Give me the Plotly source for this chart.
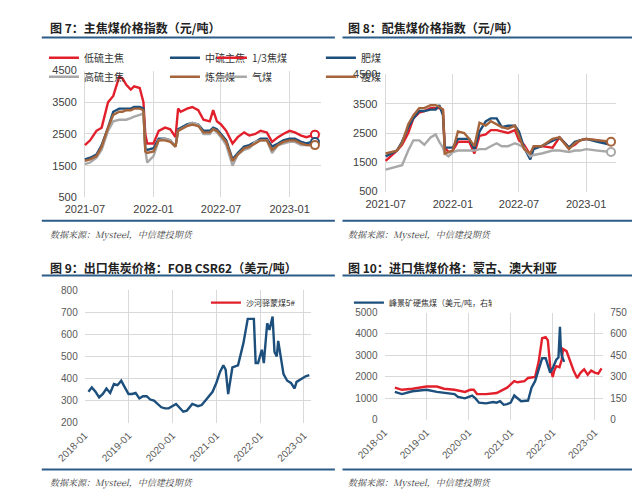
import plotly.graph_objects as go

# ---------- Data ----------
# Fig 7 main coking coal
p1_dates = ["2021-07-01","2021-07-15","2021-08-01","2021-08-15","2021-09-01","2021-09-15","2021-10-01","2021-10-10","2021-10-20","2021-11-01","2021-11-10","2021-11-25","2021-12-05","2021-12-10","2021-12-15","2022-01-01","2022-01-15","2022-02-01","2022-02-15","2022-03-01","2022-03-08","2022-03-15","2022-04-01","2022-04-15","2022-05-01","2022-05-15","2022-06-01","2022-06-10","2022-06-20","2022-07-01","2022-07-15","2022-08-01","2022-08-15","2022-09-01","2022-09-15","2022-10-01","2022-10-15","2022-11-01","2022-11-15","2022-12-01","2022-12-15","2023-01-01","2023-01-15","2023-02-01","2023-02-15","2023-03-01","2023-03-10"]
low_s  = [2150,2300,2600,2700,3500,3700,4300,4250,4050,3900,4000,3950,3500,2500,2200,2200,2600,2700,2650,2400,3300,3200,3300,3350,3250,2950,2900,3250,2900,2800,2600,2200,2400,2550,2450,2500,2600,2550,2250,2400,2500,2600,2550,2450,2400,2450,2480]
mid_s  = [1700,1750,1850,2150,2700,3200,3300,3300,3300,3300,3350,3350,3300,2050,2000,2050,2350,2350,2300,2100,2650,2700,2800,2850,2800,2600,2600,2700,2650,2500,2300,1700,1900,2100,2150,2250,2350,2350,2100,2200,2300,2350,2350,2250,2200,2250,2250]
high_s = [1550,1600,1750,2000,2600,2900,2950,2950,2950,3000,3050,3100,3150,2000,1600,1800,2300,2350,2300,2100,2600,2650,2750,2850,2800,2500,2500,2650,2550,2400,2150,1500,1850,2000,2050,2250,2300,2300,1900,2150,2200,2250,2250,2150,2150,2150,2150]
coking = [1650,1700,1800,2100,2700,3100,3200,3200,3250,3250,3300,3300,3250,1950,1900,1950,2300,2300,2250,2100,2600,2650,2750,2800,2750,2550,2550,2650,2600,2450,2250,1650,1850,2050,2100,2200,2300,2300,2000,2150,2250,2300,2300,2200,2150,2150,2150]

# Fig 8 blending coal
p2_dates = ["2021-07-01","2021-08-01","2021-08-15","2021-09-01","2021-09-15","2021-10-01","2021-10-15","2021-11-01","2021-11-15","2021-11-25","2021-12-05","2021-12-10","2021-12-20","2022-01-01","2022-01-15","2022-02-01","2022-02-15","2022-03-01","2022-03-15","2022-04-01","2022-04-15","2022-05-01","2022-05-15","2022-06-01","2022-06-20","2022-07-01","2022-07-15","2022-08-01","2022-08-10","2022-09-01","2022-10-01","2022-10-20","2022-11-15","2022-12-01","2022-12-15","2023-01-01","2023-02-01","2023-03-10"]
third  = [1550,1900,2100,2500,3000,3200,3250,3350,3350,3350,3300,2000,1850,1900,2200,2200,2200,1800,2400,2450,2600,2600,2550,2500,2600,2250,2100,1750,2000,2050,2000,2350,2000,2100,2250,2300,2250,2150]
fat    = [1700,1900,2200,2700,3000,3250,3250,3300,3300,3450,3100,2000,2000,2000,2300,2300,2300,1950,2550,2900,3000,3000,2700,2750,2750,2550,2000,1600,1950,2050,2250,2350,2000,2200,2250,2300,2200,2100]
gas    = [1250,1350,1400,1900,2250,2250,2100,2350,2450,2200,2000,1800,1700,1850,1900,1900,1900,1900,1950,1950,2050,2150,2050,2050,2150,2100,2000,1700,1750,1800,1900,1900,1850,1900,1900,1950,1900,1850]
lean   = [1800,1900,2150,2800,3100,3350,3350,3450,3450,3400,3300,1800,1850,1900,2550,2500,2300,2050,2850,2750,2900,2800,2700,2650,2750,2400,1950,1800,2050,2050,2300,2350,1950,2150,2250,2300,2250,2200]

# Fig 9 export coke FOB CSR62
p3_dates = ["2018-02-01","2018-03-01","2018-04-01","2018-05-01","2018-06-01","2018-07-01","2018-08-01","2018-09-01","2018-10-01","2018-11-01","2018-12-01","2019-01-01","2019-02-01","2019-03-01","2019-04-01","2019-05-01","2019-06-01","2019-07-01","2019-08-01","2019-09-01","2019-10-01","2019-11-01","2019-12-01","2020-02-01","2020-03-01","2020-04-01","2020-05-01","2020-06-15","2020-08-01","2020-09-01","2020-10-01","2020-11-01","2020-12-01","2021-01-01","2021-02-01","2021-03-01","2021-03-20","2021-04-10","2021-05-15","2021-07-01","2021-08-15","2021-09-20","2021-10-01","2021-11-10","2021-11-25","2021-12-15","2022-01-15","2022-02-01","2022-03-01","2022-03-20","2022-04-15","2022-05-01","2022-05-20","2022-06-01","2022-07-15","2022-08-15","2022-09-15","2022-10-15","2022-11-01","2022-12-15","2023-01-15","2023-02-15"]
fob = [340,360,340,315,330,355,335,375,370,390,360,330,330,335,310,320,320,305,300,285,270,265,265,285,270,250,255,285,275,280,300,320,340,380,430,460,440,330,450,460,560,670,670,670,470,470,530,470,650,620,680,520,500,570,420,390,380,355,385,400,410,415]

# Fig 10 import coking coal
p4_red_dates = ["2018-04-01","2018-06-01","2018-09-01","2019-01-01","2019-04-01","2019-06-01","2019-09-01","2019-12-01","2020-01-15","2020-02-15","2020-03-15","2020-06-01","2020-09-01","2020-12-01","2021-02-01","2021-03-01","2021-05-01","2021-06-01","2021-08-01","2021-09-01","2021-10-01","2021-11-01","2021-11-20","2021-12-10","2022-01-01","2022-01-15","2022-02-01","2022-03-01","2022-03-20","2022-04-01","2022-05-01","2022-06-01","2022-07-01","2022-08-01","2022-09-01","2022-10-01","2022-11-01","2022-12-01","2023-01-01","2023-02-01","2023-03-01"]
shahe = [1500,1400,1450,1550,1550,1450,1400,1300,1400,1400,1200,1200,1250,1500,1800,1750,1800,1950,2000,2700,3800,3850,3700,2500,2000,2300,2500,2450,2800,3300,3200,2700,2300,1950,2200,2350,2100,2300,2200,2150,2400]
p4_blue_dates = ["2018-04-01","2018-06-01","2018-09-01","2019-01-01","2019-04-01","2019-06-01","2019-09-01","2019-10-01","2019-12-01","2020-02-01","2020-03-01","2020-04-01","2020-06-01","2020-08-01","2020-09-01","2020-10-01","2020-11-01","2020-12-01","2021-01-01","2021-02-01","2021-03-01","2021-04-01","2021-06-01","2021-07-01","2021-08-01","2021-09-01","2021-10-01","2021-11-01","2021-12-10","2022-01-01","2022-02-01","2022-02-20","2022-03-05","2022-03-12","2022-03-20","2022-04-10"]
peak_downs = [195,180,200,210,195,190,180,160,150,170,150,120,115,125,120,130,105,110,120,170,150,130,135,225,270,345,430,430,330,360,420,435,650,510,450,405]

RED = "#e2202c"; BLUE = "#1c4f7c"; GRAY = "#a8a8a8"; BROWN = "#a5643a"
HEAD = "#2c5d88"
TICK = dict(family="Arial Black, Arial", size=10, color="#595959")
TICKB = dict(family="Arial Black, Arial", size=11, color="#404040")

fig = go.Figure()

def add(x, y, name, color, xa, ya, legend, width=2.4, show=True):
    fig.add_trace(go.Scatter(x=x, y=y, name=name, mode="lines", line=dict(color=color, width=width),
                             xaxis=xa, yaxis=ya, legend=legend, showlegend=show))

add(p1_dates, low_s, "低硫主焦", RED, "x", "y", "legend")
add(p1_dates, mid_s, "中硫主焦", BLUE, "x", "y", "legend")
add(p1_dates, high_s, "高硫主焦", GRAY, "x", "y", "legend")
add(p1_dates, coking, "炼焦煤", BROWN, "x", "y", "legend")
for s, c in [(low_s, RED), (mid_s, BLUE), (coking, BROWN)]:
    fig.add_trace(go.Scatter(x=[p1_dates[-1]], y=[s[-1]], mode="markers", showlegend=False,
                             marker=dict(size=8, color="white", line=dict(color=c, width=2)), xaxis="x", yaxis="y"))

add(p2_dates, third, "1/3焦煤", RED, "x2", "y2", "legend2")
add(p2_dates, fat, "肥煤", BLUE, "x2", "y2", "legend2")
add(p2_dates, gas, "气煤", GRAY, "x2", "y2", "legend2")
add(p2_dates, lean, "瘦煤", BROWN, "x2", "y2", "legend2")
for s, c in [(gas, GRAY), (lean, BROWN)]:
    fig.add_trace(go.Scatter(x=[p2_dates[-1]], y=[s[-1]], mode="markers", showlegend=False,
                             marker=dict(size=8, color="white", line=dict(color=c, width=2)), xaxis="x2", yaxis="y2"))

add(p3_dates, fob, "FOB", BLUE, "x3", "y3", "legend", show=False)

add(p4_red_dates, shahe, "沙河驿蒙煤5#", RED, "x4", "y4", "legend3")
add(p4_blue_dates, peak_downs, "峰景矿硬焦煤（美元/吨，右轴）", BLUE, "x4", "y5", "legend3")

def px(v): return v/640
def py(v): return 1 - v/491

grid = dict(showgrid=True, gridcolor="#d9d9d9", gridwidth=1, zeroline=False, showline=False)
fig.update_layout(
    width=640, height=491, margin=dict(l=0, r=0, t=0, b=0),
    paper_bgcolor="white", plot_bgcolor="white", font=dict(family="Noto Sans CJK SC"),
    xaxis=dict(domain=[px(49), px(297)], anchor="y", type="date", range=["2021-06-28", "2023-03-25"],
               tickvals=["2021-07-01","2022-01-01","2022-07-01","2023-01-01"], tickformat="%Y-%m",
               ticklabelstandoff=4, tickfont=TICKB, **grid),
    yaxis=dict(domain=[py(188), py(58)], anchor="x", range=[500, 4500], tickvals=[500,1500,2500,3500,4500],
               ticklabelstandoff=6, tickfont=TICKB, **grid),
    xaxis2=dict(domain=[px(364), px(607)], anchor="y2", type="date", range=["2021-06-28", "2023-03-25"],
                tickvals=["2021-07-01","2022-01-01","2022-07-01","2023-01-01"], tickformat="%Y-%m",
                ticklabelstandoff=4, tickfont=TICKB, **grid),
    yaxis2=dict(domain=[py(182), py(62)], anchor="x2", range=[500, 4500], tickvals=[500,1500,2500,3500,4500],
                ticklabelstandoff=6, tickfont=TICKB, **grid),
    xaxis3=dict(domain=[px(50), px(287)], anchor="y3", type="date", range=["2018-01-01", "2023-03-01"],
                tickvals=[f"{y}-01-01" for y in range(2018, 2024)], tickformat="%Y-%m", tickangle=-45,
                ticklabelstandoff=4, tickfont=TICK, **grid),
    yaxis3=dict(domain=[py(419), py(283)], anchor="x3", range=[200, 800], tickvals=[200,300,400,500,600,700,800],
                ticklabelstandoff=6, tickfont=TICK, **grid),
    xaxis4=dict(domain=[px(364), px(593)], anchor="y4", type="date", range=["2018-01-01", "2023-03-15"],
                tickvals=[f"{y}-01-01" for y in range(2018, 2024)], tickformat="%Y-%m", tickangle=-45,
                ticklabelstandoff=4, tickfont=TICK, **grid),
    yaxis4=dict(domain=[py(416), py(306)], anchor="x4", range=[0, 5000], tickvals=[0,1000,2000,3000,4000,5000],
                ticklabelstandoff=6, tickfont=TICK, **grid),
    yaxis5=dict(domain=[py(416), py(306)], anchor="x4", overlaying="y4", side="right", range=[0, 750],
                tickvals=[0,150,300,450,600,750], showgrid=False, zeroline=False, ticklabelstandoff=6, tickfont=TICK),
    legend=dict(orientation="h", x=px(14), y=py(30), xanchor="left", yanchor="top", font=dict(size=10, color="#333"),
                entrywidth=76, entrywidthmode="pixels", itemwidth=30, bgcolor="rgba(0,0,0,0)"),
    legend2=dict(orientation="h", x=px(352), y=py(30), xanchor="left", yanchor="top", font=dict(size=10, color="#333"),
                 entrywidth=64, entrywidthmode="pixels", itemwidth=30, bgcolor="rgba(0,0,0,0)"),
    legend3=dict(orientation="h", x=px(340), y=py(281), xanchor="left", yanchor="top", font=dict(size=8, color="#333"),
                 entrywidth=98, entrywidthmode="pixels", itemwidth=30, bgcolor="rgba(0,0,0,0)"),
)

TF = dict(family="Noto Sans CJK SC", size=12, color="#222")
SF = dict(family="Noto Serif CJK SC, Noto Sans CJK SC", size=9, color="#444")
titles = [(px(12), py(14), "<b>图 7：主焦煤价格指数（元/吨）</b>"), (px(324), py(14), "<b>图 8：配焦煤价格指数（元/吨）</b>"),
          (px(12), py(260), "<b>图 9：出口焦炭价格：FOB CSR62（美元/吨）</b>"), (px(324), py(260), "<b>图 10：进口焦煤价格：蒙古、澳大利亚</b>")]
for x, y, t in titles:
    fig.add_annotation(x=x, y=y, xref="paper", yref="paper", text=t, showarrow=False, xanchor="left", yanchor="middle", font=TF)
for x, y in [(px(12), py(226)), (px(324), py(226)), (px(12), py(480)), (px(324), py(480))]:
    fig.add_annotation(x=x, y=y, xref="paper", yref="paper", text="<i>数据来源：Mysteel，中信建投期货</i>",
                       showarrow=False, xanchor="left", yanchor="middle", font=SF)
for x0, x1 in [(px(5), px(312)), (px(320), px(628))]:
    for yy in [py(24), py(212), py(268), py(467)]:
        fig.add_shape(type="line", xref="paper", yref="paper", x0=x0, x1=x1, y0=yy, y1=yy, line=dict(color=HEAD, width=2))

fig.write_html("out.html")
